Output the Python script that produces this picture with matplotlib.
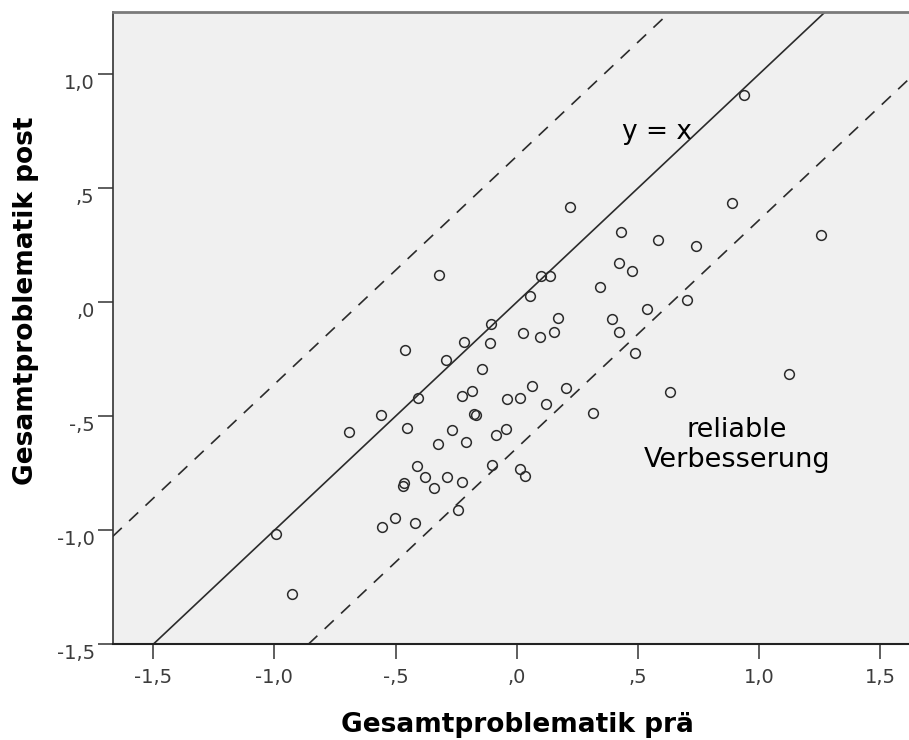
import numpy as np
import matplotlib
matplotlib.use("Agg")
import matplotlib.pyplot as plt

# Gesamtproblematik scores, before (prä) and after (post) treatment
pre = [0.937, 0.222, 0.888, 0.429, 0.583, 0.742, 1.257, -0.319, 0.100, 0.137,
       0.423, 0.474, 0.056, 0.345, 0.701, 0.539, -0.107, 0.025, 0.170, 0.392,
       0.097, 0.152, 0.421, -0.218, -0.110, -0.461, -0.292, 0.488, -0.142, 1.125,
       0.631, -0.409, -0.226, -0.183, -0.175, -0.167, -0.041, 0.015, 0.065, 0.205,
       0.121, 0.313, -0.560, -0.692, -0.452, -0.268, -0.323, -0.209, -0.084, -0.042,
       -0.411, -0.101, -0.380, -0.289, -0.465, -0.467, -0.342, -0.226, 0.014, 0.035,
       -0.501, -0.556, -0.420, -0.241, -0.995, -0.928]
post = [0.909, 0.419, 0.437, 0.307, 0.272, 0.248, 0.294, 0.118, 0.115, 0.113,
        0.170, 0.137, 0.028, 0.068, 0.008, -0.030, -0.095, -0.136, -0.071, -0.075,
        -0.154, -0.132, -0.130, -0.173, -0.180, -0.211, -0.254, -0.224, -0.293, -0.316,
        -0.393, -0.421, -0.411, -0.388, -0.490, -0.494, -0.424, -0.420, -0.367, -0.376,
        -0.446, -0.487, -0.493, -0.567, -0.551, -0.561, -0.621, -0.612, -0.584, -0.555,
        -0.719, -0.712, -0.768, -0.765, -0.791, -0.805, -0.813, -0.788, -0.730, -0.762,
        -0.947, -0.987, -0.966, -0.911, -1.017, -1.279]

# half-width of the reliable-change band around y = x
rci = 0.64

ticks = [-1.5, -1.0, -0.5, 0.0, 0.5, 1.0, 1.5]
xtick_labels = ["-1,5", "-1,0", "-,5", ",0", ",5", "1,0", "1,5"]
yticks = [-1.5, -1.0, -0.5, 0.0, 0.5, 1.0]
ytick_labels = ["-1,5", "-1,0", "-,5", ",0", ",5", "1,0"]

W, H = 909, 740
fig = plt.figure(figsize=(W / 100, H / 100), dpi=100)
fig.patch.set_facecolor("white")
ax = fig.add_axes([112.7 / W, 1 - 644.3 / H, (W - 112.7) / W, (644.3 - 11.7) / H])
ax.set_facecolor("#f0f0f0")

ink = "#2b2b2b"
ax.axline((0, 0), slope=1, color=ink, lw=1.2)
for off in (rci, -rci):
    ax.axline((0, off), slope=1, color=ink, lw=1.2, linestyle=(0, (7.5, 6)))

ax.plot(pre, post, "o", ms=7, mfc="none", mec=ink, mew=1.1, zorder=3)

ax.set_xlim(-1.667, 1.619)
ax.set_ylim(-1.5, 1.274)

ax.set_xticks(ticks)
ax.set_xticklabels(xtick_labels)
ax.set_yticks(yticks)
ax.set_yticklabels(ytick_labels)
ax.tick_params(direction="out", length=11, width=1.1, color="#333333",
               labelsize=14, labelcolor="#3c3c3c")
ax.tick_params(axis="x", pad=6)
ax.tick_params(axis="y", pad=2)
for lbl in ax.get_yticklabels():
    lbl.set_verticalalignment("top")

ax.spines["right"].set_visible(False)
ax.spines["top"].set_color("#7a7a7a")
ax.spines["top"].set_linewidth(2)
ax.spines["left"].set_color("#333333")
ax.spines["left"].set_linewidth(1.2)
ax.spines["bottom"].set_color("#222222")
ax.spines["bottom"].set_linewidth(1.5)

ax.text(0.436, 0.716, "y = x", fontsize=19, ha="left", va="baseline", color="black")
ax.text(0.909, -0.590, "reliable", fontsize=19.5, ha="center", va="baseline", color="black")
ax.text(0.909, -0.722, "Verbesserung", fontsize=19.5, ha="center", va="baseline", color="black")

fig.text(517 / W, 1 - 732 / H, "Gesamtproblematik prä", fontsize=19, fontweight="bold",
         ha="center", va="baseline")
fig.text(26 / W, 1 - 301 / H, "Gesamtproblematik post", fontsize=19, fontweight="bold",
         rotation=90, ha="center", va="center")

fig.savefig("out.png", dpi=100)
